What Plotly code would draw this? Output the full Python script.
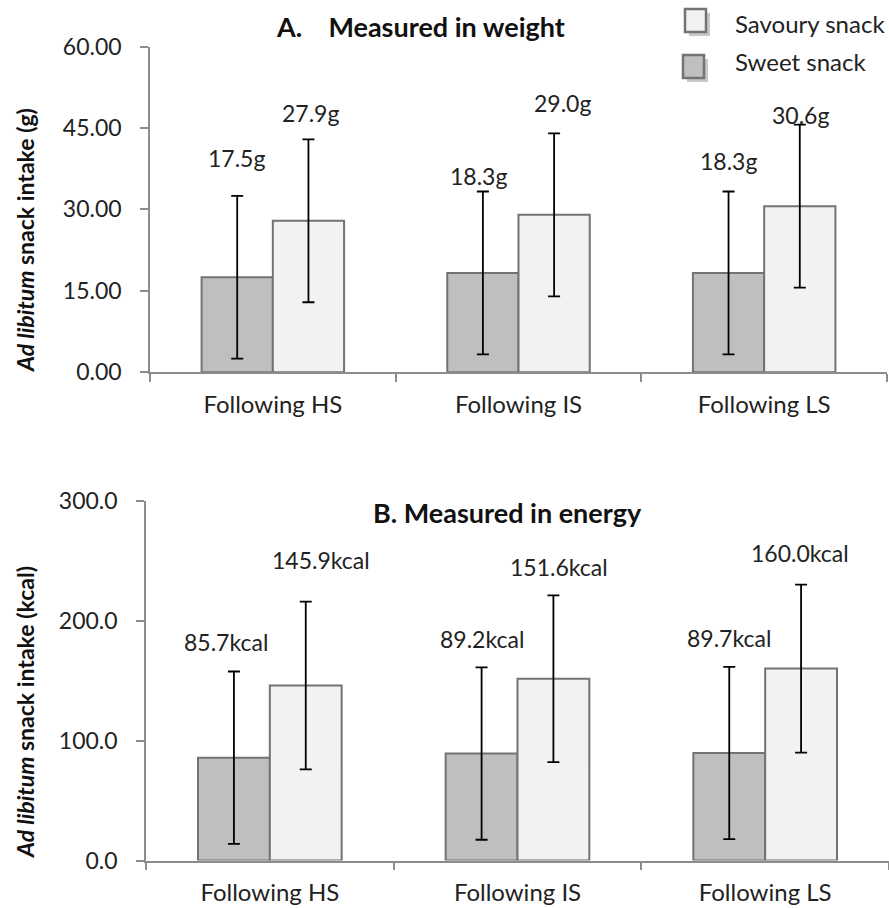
import plotly.graph_objects as go

categories = ["Following HS", "Following IS", "Following LS"]

sweet_weight = [17.5, 18.3, 18.3]
savoury_weight = [27.9, 29.0, 30.6]
sweet_weight_err = [15.0, 15.0, 15.0]
savoury_weight_err = [15.0, 15.0, 15.0]

sweet_energy = [85.7, 89.2, 89.7]
savoury_energy = [145.9, 151.6, 160.0]
sweet_energy_err = [71.9, 71.9, 71.8]
savoury_energy_err = [70.0, 69.5, 70.0]

weight_ticks = [0, 15, 30, 45, 60]
energy_ticks = [0, 100, 200, 300]

FONT = "Lato"
SWEET_FILL = "#bfbfbf"
SAV_FILL = "#f2f2f2"
EDGE = "#737373"
AXIS = "#8c8c8c"

fig = go.Figure()

err_style = dict(type="data", color="black", thickness=1.8, width=6, visible=True)

def add_bars(xaxis, yaxis, sweet, sweet_err, sav, sav_err):
    fig.add_trace(go.Bar(x=categories, y=sweet, name="Sweet snack",
                         marker=dict(color=SWEET_FILL, line=dict(color=EDGE, width=2)),
                         error_y=dict(array=sweet_err, **err_style),
                         xaxis=xaxis, yaxis=yaxis, showlegend=False))
    fig.add_trace(go.Bar(x=categories, y=sav, name="Savoury snack",
                         marker=dict(color=SAV_FILL, line=dict(color=EDGE, width=2)),
                         error_y=dict(array=sav_err, **err_style),
                         xaxis=xaxis, yaxis=yaxis, showlegend=False))

add_bars("x", "y", sweet_weight, sweet_weight_err, savoury_weight, savoury_weight_err)
add_bars("x2", "y2", sweet_energy, sweet_energy_err, savoury_energy, savoury_energy_err)

ytickfont = dict(family=FONT, size=23, color="#222222")
xtickfont = dict(family=FONT, size=24, color="#222222")

xcommon = dict(type="category", showline=True, linecolor=AXIS, linewidth=1.5,
               ticks="outside", ticklen=8, tickcolor=AXIS, tickwidth=1.5,
               tickson="boundaries", showgrid=False, zeroline=False, automargin=False,
               tickfont=xtickfont, ticklabelstandoff=10)
ycommon = dict(showline=True, linecolor=AXIS, linewidth=1.5, ticks="outside",
               ticklen=8, tickcolor=AXIS, tickwidth=1.5, showgrid=False, automargin=False,
               zeroline=False, tickfont=ytickfont, ticklabelstandoff=14)

fig.update_layout(
    width=889, height=908,
    margin=dict(l=0, r=0, t=0, b=0, autoexpand=False),
    paper_bgcolor="white", plot_bgcolor="white",
    barmode="group", bargap=0.42, bargroupgap=0,
    font=dict(family=FONT, size=24, color="#222222"),
    xaxis=dict(domain=[150/889, 887/889], anchor="y", **xcommon),
    yaxis=dict(domain=[1 - 372.3/908, 1 - 46.5/908], anchor="x", range=[0, 60],
               tickvals=weight_ticks, tickformat=".2f", **ycommon),
    xaxis2=dict(domain=[146/889, 1.0], anchor="y2", **xcommon),
    yaxis2=dict(domain=[1 - 860.5/908, 1 - 500.7/908], anchor="x2", range=[0, 300],
                tickvals=energy_ticks, tickformat=".1f", **ycommon),
    showlegend=False,
)

# data labels
weight_labels = [f"{v:.1f}g" for v in sweet_weight], [f"{v:.1f}g" for v in savoury_weight]
energy_labels = [f"{v:.1f}kcal" for v in sweet_energy], [f"{v:.1f}kcal" for v in savoury_energy]

# per-label pixel shifts (from bar centre / error top), as placed in the original
w_shift = [[(-1, 38), (-5, 15), (0, 30)], [(2, 26), (8, 30), (1, 10)]]
e_shift = [[(-8, 29), (0, 28), (-1, 29)], [(16, 42), (6, 28), (-1, 32)]]

def add_labels(xref, yref, means, errs, labels, shifts, offset_sign):
    for i, cat in enumerate(categories):
        fig.add_annotation(x=cat, y=means[i] + errs[i], xref=xref, yref=yref,
                           text=labels[i], showarrow=False,
                           xshift=offset_sign * 35.5 + shifts[i][0], yshift=shifts[i][1],
                           yanchor="middle", xanchor="center",
                           font=dict(family=FONT, size=23, color="#222222"))

add_labels("x", "y", sweet_weight, sweet_weight_err, weight_labels[0], w_shift[0], -1)
add_labels("x", "y", savoury_weight, savoury_weight_err, weight_labels[1], w_shift[1], 1)
add_labels("x2", "y2", sweet_energy, sweet_energy_err, energy_labels[0], e_shift[0], -1)
add_labels("x2", "y2", savoury_energy, savoury_energy_err, energy_labels[1], e_shift[1], 1)

# titles
fig.add_annotation(x=420/889, y=1 - 27/908, xref="paper", yref="paper",
                   text="<b>A.&nbsp;&nbsp;&nbsp;&nbsp;Measured in weight</b>", showarrow=False,
                   font=dict(family=FONT, size=27, color="#111111"), xanchor="center", yanchor="middle")
fig.add_annotation(x=507/889, y=1 - 512/908, xref="paper", yref="paper",
                   text="<b>B. Measured in energy</b>", showarrow=False,
                   font=dict(family=FONT, size=27, color="#111111"), xanchor="center", yanchor="middle")

# y-axis titles
fig.add_annotation(x=25/889, y=1 - 240/908, xref="paper", yref="paper",
                   text="<b><i>Ad libitum</i> snack intake (g)</b>", showarrow=False, textangle=-90,
                   font=dict(family=FONT, size=23, color="#111111"), xanchor="center", yanchor="middle")
fig.add_annotation(x=25/889, y=1 - 712/908, xref="paper", yref="paper",
                   text="<b><i>Ad libitum</i> snack intake (kcal)</b>", showarrow=False, textangle=-90,
                   font=dict(family=FONT, size=23, color="#111111"), xanchor="center", yanchor="middle")

# manual legend (square with shadow): (name, fill, square x, square y, text y)
legend_items = [("Savoury snack", SAV_FILL, 685, 9, 23), ("Sweet snack", SWEET_FILL, 683, 55, 61)]
for name, fill, lx, ly, ty in legend_items:
    fig.add_shape(type="rect", xref="paper", yref="paper",
                  x0=(lx + 4)/889, x1=(lx + 25)/889, y0=1 - (ly + 27)/908, y1=1 - (ly + 4)/908,
                  fillcolor="#c8c8c8", line=dict(width=0), layer="above")
    fig.add_shape(type="rect", xref="paper", yref="paper",
                  x0=lx/889, x1=(lx + 21)/889, y0=1 - (ly + 23)/908, y1=1 - ly/908,
                  fillcolor=fill, line=dict(color=EDGE, width=2.5), layer="above")
    fig.add_annotation(x=733/889, y=1 - ty/908, xref="paper", yref="paper",
                       text=name, showarrow=False, xanchor="left", yanchor="middle",
                       font=dict(family=FONT, size=24, color="#222222"))

fig.write_html("out.html")
